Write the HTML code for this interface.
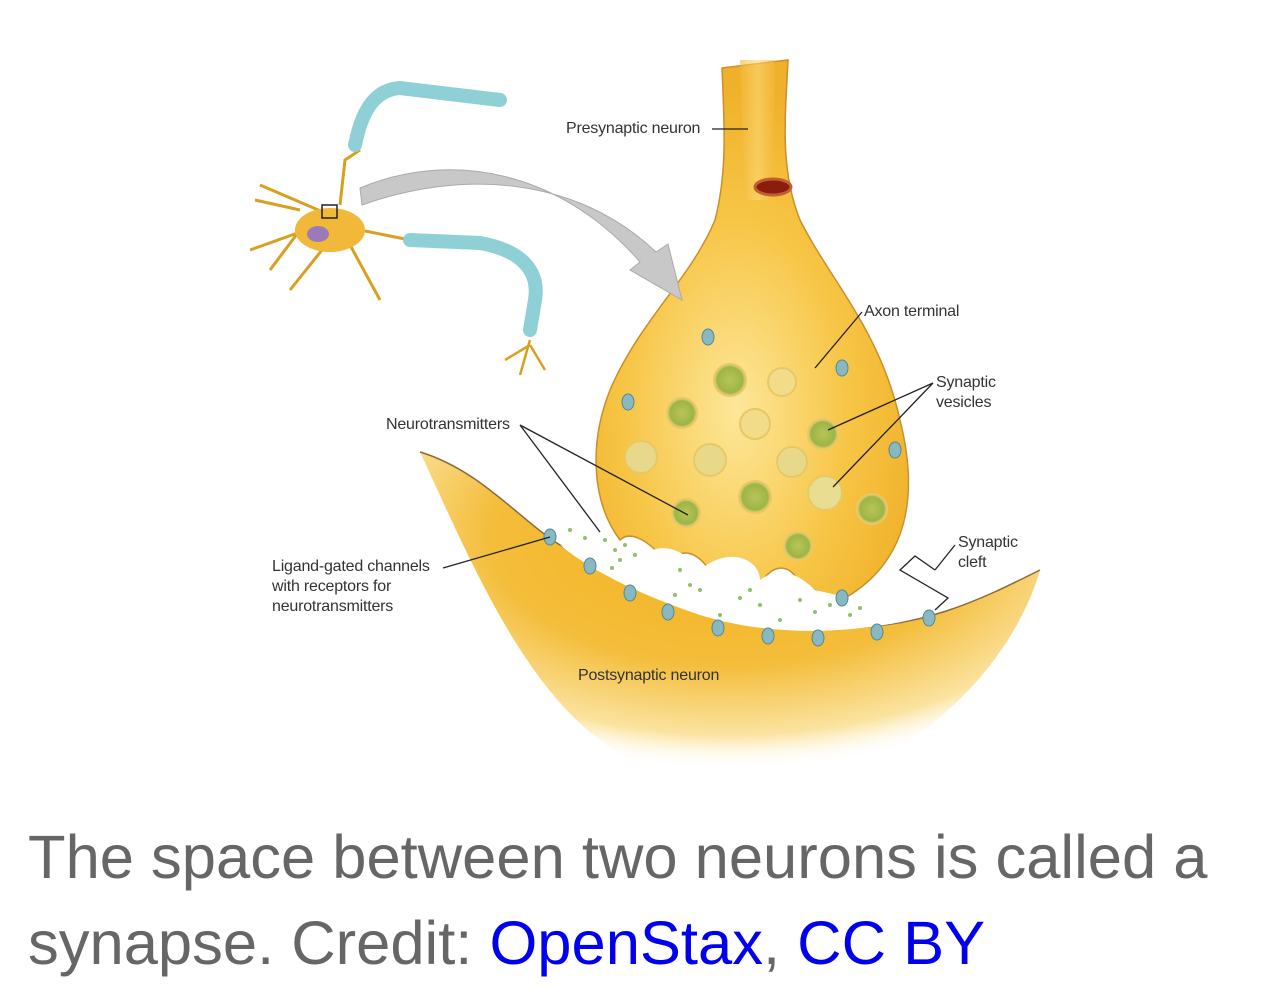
<!DOCTYPE html>
<html><head><style>
body{margin:0;background:#fff;width:1280px;height:1003px;overflow:hidden;font-family:"Liberation Sans",sans-serif}
.cap{position:absolute;left:28px;top:815px;font-size:61.5px;line-height:86px;color:#666;white-space:nowrap}
.cap a{color:#0000ee;text-decoration:none}
</style></head><body>
<svg width="1280" height="800" style="position:absolute;left:0;top:0" font-family="Liberation Sans, sans-serif">
<defs>
<radialGradient id="post" cx="0.5" cy="0.25" r="0.7">
<stop offset="0" stop-color="#f2b21e"/><stop offset="0.55" stop-color="#f4bd3a"/><stop offset="0.85" stop-color="#fbe3a0"/><stop offset="1" stop-color="#fff" stop-opacity="0"/></radialGradient>
<radialGradient id="pre" cx="0.45" cy="0.65" r="0.6">
<stop offset="0" stop-color="#fde79a"/><stop offset="0.6" stop-color="#f7c545"/><stop offset="1" stop-color="#f0b12a"/></radialGradient>
<linearGradient id="stem" x1="0" x2="1"><stop offset="0" stop-color="#f3b836"/><stop offset="0.5" stop-color="#fbd977"/><stop offset="1" stop-color="#f3b836"/></linearGradient>
<radialGradient id="ves" cx="0.5" cy="0.5" r="0.5"><stop offset="0" stop-color="#b9c45a"/><stop offset="0.8" stop-color="#9db545"/><stop offset="1" stop-color="#e8d27a"/></radialGradient>
</defs>
<path d="M420 452 C480 470 520 520 560 545 C620 585 700 618 830 628 C920 630 980 600 1040 570 C1020 640 960 720 860 770 C760 800 660 790 600 740 C520 680 470 560 420 452Z" fill="url(#post)"/>
<path d="M420 452 C480 470 520 520 560 545 C620 585 700 618 830 628 C920 630 980 600 1040 570" fill="none" stroke="#8a6a3a" stroke-width="1.5"/>
<path d="M722 68 L788 60 C785 120 780 170 800 220 C830 280 880 330 900 420 C920 500 905 560 850 595 L840 600 C820 595 810 585 800 585 C790 560 770 565 760 585 C740 570 720 575 715 580 C700 550 680 545 668 565 C650 540 630 530 620 540 C590 500 590 440 610 390 C640 320 690 280 715 220 C728 170 724 120 722 68Z" fill="url(#pre)" stroke="#c98f2a" stroke-width="1.5"/>
<path d="M740 60 L775 60 L772 200 L745 200Z" fill="url(#stem)" opacity="0.6"/>
<ellipse cx="773" cy="187" rx="18" ry="8" fill="#8b1c10" stroke="#c06030" stroke-width="3"/>
<path d="M560 545 C600 560 630 575 640 560 C660 535 690 555 700 570 C730 545 760 560 760 580 C780 565 800 575 815 590 L850 598 C880 605 900 610 930 615 C870 632 780 640 700 615 C640 595 590 570 560 545Z" fill="#fff"/>
<g fill="url(#ves)" stroke="#e8c866" stroke-width="2">
<circle cx="730" cy="380" r="16"/><circle cx="782" cy="382" r="14" fill="#f2dc8a"/><circle cx="682" cy="413" r="15"/><circle cx="755" cy="424" r="15" fill="#f2dc8a"/><circle cx="823" cy="434" r="15"/><circle cx="641" cy="457" r="16" fill="#e8d98a"/><circle cx="710" cy="460" r="16" fill="#e8d98a"/><circle cx="792" cy="462" r="15" fill="#e8d98a"/><circle cx="755" cy="497" r="16"/><circle cx="825" cy="493" r="17" fill="#e8dd90"/><circle cx="872" cy="509" r="15"/><circle cx="686" cy="513" r="14"/><circle cx="798" cy="546" r="14"/>
</g>
<g fill="#8fbf6a">
<circle cx="570" cy="530" r="2"/><circle cx="585" cy="538" r="2"/><circle cx="605" cy="540" r="2"/><circle cx="615" cy="550" r="2"/><circle cx="625" cy="545" r="2"/><circle cx="620" cy="560" r="2"/><circle cx="635" cy="555" r="2"/><circle cx="612" cy="568" r="2"/><circle cx="680" cy="570" r="2"/><circle cx="690" cy="585" r="2"/><circle cx="675" cy="595" r="2"/><circle cx="700" cy="590" r="2"/><circle cx="740" cy="598" r="2"/><circle cx="760" cy="605" r="2"/><circle cx="750" cy="590" r="2"/><circle cx="800" cy="600" r="2"/><circle cx="815" cy="612" r="2"/><circle cx="830" cy="605" r="2"/><circle cx="850" cy="615" r="2"/><circle cx="860" cy="608" r="2"/><circle cx="780" cy="620" r="2"/><circle cx="720" cy="615" r="2"/>
</g>
<g fill="#8ab8c0" stroke="#4f8a98" stroke-width="1">
<ellipse cx="550" cy="537" rx="6" ry="8"/><ellipse cx="590" cy="566" rx="6" ry="8"/><ellipse cx="630" cy="593" rx="6" ry="8"/><ellipse cx="668" cy="612" rx="6" ry="8"/><ellipse cx="718" cy="628" rx="6" ry="8"/><ellipse cx="768" cy="636" rx="6" ry="8"/><ellipse cx="818" cy="638" rx="6" ry="8"/><ellipse cx="877" cy="632" rx="6" ry="8"/><ellipse cx="929" cy="618" rx="6" ry="8"/><ellipse cx="842" cy="598" rx="6" ry="8"/>
<ellipse cx="708" cy="337" rx="6" ry="8"/><ellipse cx="842" cy="368" rx="6" ry="8"/><ellipse cx="628" cy="402" rx="6" ry="8"/><ellipse cx="895" cy="450" rx="6" ry="8"/>
</g>
<path d="M360 188 C450 150 560 170 640 262 L630 270 L682 300 L668 244 L656 252 C575 175 460 170 362 205Z" fill="#c8c8c8" stroke="#aaa"/>
<g stroke="#d9a020" stroke-width="3" fill="none">
<path d="M330 215 L260 185 M320 225 L250 250 M330 240 L290 290 M350 245 L380 300 M360 230 L410 240 M340 205 L345 160 L360 150 M300 230 L270 270 M300 210 L255 200"/>
</g>
<ellipse cx="330" cy="230" rx="35" ry="22" fill="#f2b83a"/>
<ellipse cx="318" cy="234" rx="11" ry="8" fill="#9a7ab8"/>
<rect x="322" y="205" width="15" height="13" fill="none" stroke="#222" stroke-width="1.5"/>
<g stroke="#8fd0d6" stroke-width="14" stroke-linecap="round" fill="none">
<path d="M355 145 C360 120 370 90 400 88 L500 100"/>
<path d="M410 240 L480 243 C520 250 540 270 535 300 L530 330"/>
</g>
<path d="M530 340 L520 375 M530 345 L545 370 M530 345 L505 360" stroke="#d9a020" stroke-width="2.5"/>
<g font-size="16" fill="#333" letter-spacing="-0.2">
<text x="566" y="133">Presynaptic neuron</text>
<text x="864" y="316">Axon terminal</text>
<text x="936" y="387">Synaptic</text><text x="936" y="407">vesicles</text>
<text x="386" y="429">Neurotransmitters</text>
<text x="958" y="547">Synaptic</text><text x="958" y="567">cleft</text>
<text x="272" y="571">Ligand-gated channels</text><text x="272" y="591">with receptors for</text><text x="272" y="611">neurotransmitters</text>
<text x="578" y="680">Postsynaptic neuron</text>
</g>
<g stroke="#222" stroke-width="1.3" fill="none">
<path d="M712 129 L748 129"/><path d="M862 312 L815 368"/>
<path d="M933 383 L828 430 M933 383 L833 487"/>
<path d="M520 425 L600 532 M520 425 L688 515"/>
<path d="M443 568 L550 537"/>
<path d="M955 545 L935 570 M935 570 L915 556 L900 570 L948 598 L935 610"/>
</g>
</svg>
<div class="cap">The space between two neurons is called a<br>synapse. Credit: <a>OpenStax</a>, <a>CC BY</a></div>
</body></html>
